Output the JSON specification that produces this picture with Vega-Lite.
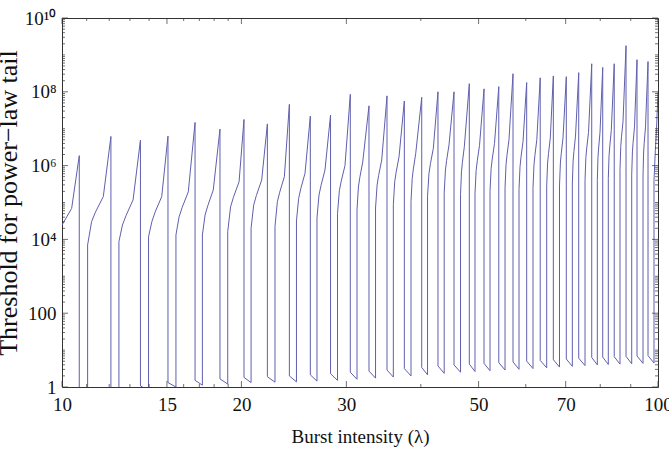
{
  "$schema": "https://vega.github.io/schema/vega-lite/v6.json",
  "width": 596,
  "height": 369,
  "autosize": {"type": "none"},
  "padding": {"left": 62, "top": 18, "right": 11, "bottom": 63},
  "background": "white",
  "config": {"view": {"stroke": "#333333", "strokeWidth": 1}, "font": "Liberation Serif"},
  "datasets": {
    "xmajor": [{"lambda":10},{"lambda":15},{"lambda":20},{"lambda":30},{"lambda":50},{"lambda":70},{"lambda":100}],
    "xminor": [{"lambda":11},{"lambda":12},{"lambda":13},{"lambda":14},{"lambda":16},{"lambda":17},{"lambda":18},{"lambda":19},{"lambda":40},{"lambda":60},{"lambda":80},{"lambda":90}],
    "ymajor": [{"threshold":1},{"threshold":100},{"threshold":1e4},{"threshold":1e6},{"threshold":1e8},{"threshold":1e10}],
    "yminor": [{"threshold":2},{"threshold":3},{"threshold":4},{"threshold":5},{"threshold":6},{"threshold":7},{"threshold":8},{"threshold":9},{"threshold":10},{"threshold":20},{"threshold":30},{"threshold":40},{"threshold":50},{"threshold":60},{"threshold":70},{"threshold":80},{"threshold":90},{"threshold":200},{"threshold":300},{"threshold":400},{"threshold":500},{"threshold":600},{"threshold":700},{"threshold":800},{"threshold":900},{"threshold":1000},{"threshold":2000},{"threshold":3000},{"threshold":4000},{"threshold":5000},{"threshold":6000},{"threshold":7000},{"threshold":8000},{"threshold":9000},{"threshold":2e4},{"threshold":3e4},{"threshold":4e4},{"threshold":5e4},{"threshold":6e4},{"threshold":7e4},{"threshold":8e4},{"threshold":9e4},{"threshold":1e5},{"threshold":2e5},{"threshold":3e5},{"threshold":4e5},{"threshold":5e5},{"threshold":6e5},{"threshold":7e5},{"threshold":8e5},{"threshold":9e5},{"threshold":2e6},{"threshold":3e6},{"threshold":4e6},{"threshold":5e6},{"threshold":6e6},{"threshold":7e6},{"threshold":8e6},{"threshold":9e6},{"threshold":1e7},{"threshold":2e7},{"threshold":3e7},{"threshold":4e7},{"threshold":5e7},{"threshold":6e7},{"threshold":7e7},{"threshold":8e7},{"threshold":9e7},{"threshold":2e8},{"threshold":3e8},{"threshold":4e8},{"threshold":5e8},{"threshold":6e8},{"threshold":7e8},{"threshold":8e8},{"threshold":9e8},{"threshold":1e9},{"threshold":2e9},{"threshold":3e9},{"threshold":4e9},{"threshold":5e9},{"threshold":6e9},{"threshold":7e9},{"threshold":8e9},{"threshold":9e9}],
    "curve": [
    {"i":1,"lambda":10.00,"threshold":24550},
    {"i":2,"lambda":10.38,"threshold":69180},
    {"i":3,"lambda":10.69,"threshold":1.862e6},
    {"i":4,"lambda":10.69,"threshold":0.316},
    {"i":5,"lambda":11.04,"threshold":0.316},
    {"i":6,"lambda":11.04,"threshold":7079},
    {"i":7,"lambda":11.21,"threshold":30200},
    {"i":8,"lambda":11.38,"threshold":54950},
    {"i":9,"lambda":11.73,"threshold":1.445e5},
    {"i":10,"lambda":12.08,"threshold":6.166e6},
    {"i":11,"lambda":12.08,"threshold":0.316},
    {"i":12,"lambda":12.46,"threshold":0.316},
    {"i":13,"lambda":12.46,"threshold":8710},
    {"i":14,"lambda":12.63,"threshold":24550},
    {"i":15,"lambda":12.81,"threshold":44670},
    {"i":16,"lambda":13.16,"threshold":1.175e5},
    {"i":17,"lambda":13.54,"threshold":4.898e6},
    {"i":18,"lambda":13.54,"threshold":1.072},
    {"i":19,"lambda":13.97,"threshold":0.794},
    {"i":20,"lambda":13.97,"threshold":11750},
    {"i":21,"lambda":14.15,"threshold":30200},
    {"i":22,"lambda":14.33,"threshold":54950},
    {"i":23,"lambda":14.70,"threshold":1.445e5},
    {"i":24,"lambda":15.06,"threshold":6.31e6},
    {"i":25,"lambda":15.06,"threshold":1.318},
    {"i":26,"lambda":15.53,"threshold":1.0},
    {"i":27,"lambda":15.53,"threshold":13180},
    {"i":28,"lambda":15.72,"threshold":40740},
    {"i":29,"lambda":15.91,"threshold":74130},
    {"i":30,"lambda":16.29,"threshold":1.95e5},
    {"i":31,"lambda":16.72,"threshold":1.479e7},
    {"i":32,"lambda":16.72,"threshold":1.514},
    {"i":33,"lambda":17.20,"threshold":1.122},
    {"i":34,"lambda":17.20,"threshold":13180},
    {"i":35,"lambda":17.38,"threshold":45710},
    {"i":36,"lambda":17.57,"threshold":83180},
    {"i":37,"lambda":17.94,"threshold":2.188e5},
    {"i":38,"lambda":18.41,"threshold":9.772e6},
    {"i":39,"lambda":18.41,"threshold":1.660},
    {"i":40,"lambda":18.97,"threshold":1.202},
    {"i":41,"lambda":18.97,"threshold":16220},
    {"i":42,"lambda":19.18,"threshold":75860},
    {"i":43,"lambda":19.39,"threshold":1.38e5},
    {"i":44,"lambda":19.82,"threshold":3.631e5},
    {"i":45,"lambda":20.20,"threshold":1.778e7},
    {"i":46,"lambda":20.20,"threshold":1.820},
    {"i":47,"lambda":20.76,"threshold":1.318},
    {"i":48,"lambda":20.76,"threshold":19950},
    {"i":49,"lambda":20.97,"threshold":85110},
    {"i":50,"lambda":21.19,"threshold":1.549e5},
    {"i":51,"lambda":21.63,"threshold":4.074e5},
    {"i":52,"lambda":22.11,"threshold":1.349e7},
    {"i":53,"lambda":22.11,"threshold":1.905},
    {"i":54,"lambda":22.77,"threshold":1.349},
    {"i":55,"lambda":22.77,"threshold":22390},
    {"i":56,"lambda":22.98,"threshold":1.047e5},
    {"i":57,"lambda":23.19,"threshold":1.905e5},
    {"i":58,"lambda":23.61,"threshold":5.012e5},
    {"i":59,"lambda":24.07,"threshold":4.571e7},
    {"i":60,"lambda":24.07,"threshold":1.995},
    {"i":61,"lambda":24.74,"threshold":1.380},
    {"i":62,"lambda":24.74,"threshold":31620},
    {"i":63,"lambda":24.95,"threshold":1.288e5},
    {"i":64,"lambda":25.15,"threshold":2.344e5},
    {"i":65,"lambda":25.57,"threshold":6.166e5},
    {"i":66,"lambda":26.10,"threshold":2.188e7},
    {"i":67,"lambda":26.10,"threshold":2.138},
    {"i":68,"lambda":26.78,"threshold":1.445},
    {"i":69,"lambda":26.78,"threshold":38020},
    {"i":70,"lambda":26.99,"threshold":1.585e5},
    {"i":71,"lambda":27.20,"threshold":2.884e5},
    {"i":72,"lambda":27.62,"threshold":7.586e5},
    {"i":73,"lambda":28.22,"threshold":2.344e7},
    {"i":74,"lambda":28.22,"threshold":2.291},
    {"i":75,"lambda":28.99,"threshold":1.514},
    {"i":76,"lambda":28.99,"threshold":50120},
    {"i":77,"lambda":29.20,"threshold":2.089e5},
    {"i":78,"lambda":29.41,"threshold":3.802e5},
    {"i":79,"lambda":29.84,"threshold":1.0e6},
    {"i":80,"lambda":30.46,"threshold":8.511e7},
    {"i":81,"lambda":30.46,"threshold":2.512},
    {"i":82,"lambda":31.26,"threshold":1.622},
    {"i":83,"lambda":31.26,"threshold":63100},
    {"i":84,"lambda":31.43,"threshold":2.63e5},
    {"i":85,"lambda":31.60,"threshold":4.786e5},
    {"i":86,"lambda":31.96,"threshold":1.259e6},
    {"i":87,"lambda":32.74,"threshold":4.169e7},
    {"i":88,"lambda":32.74,"threshold":2.692},
    {"i":89,"lambda":33.58,"threshold":1.738},
    {"i":90,"lambda":33.58,"threshold":70790},
    {"i":91,"lambda":33.78,"threshold":2.951e5},
    {"i":92,"lambda":33.98,"threshold":5.37e5},
    {"i":93,"lambda":34.39,"threshold":1.413e6},
    {"i":94,"lambda":35.10,"threshold":7.762e7},
    {"i":95,"lambda":35.10,"threshold":2.884},
    {"i":96,"lambda":35.97,"threshold":1.862},
    {"i":97,"lambda":35.97,"threshold":87100},
    {"i":98,"lambda":36.16,"threshold":3.631e5},
    {"i":99,"lambda":36.36,"threshold":6.607e5},
    {"i":100,"lambda":36.77,"threshold":1.738e6},
    {"i":101,"lambda":37.53,"threshold":5.623e7},
    {"i":102,"lambda":37.53,"threshold":3.162},
    {"i":103,"lambda":38.51,"threshold":1.995},
    {"i":104,"lambda":38.51,"threshold":1.072e5},
    {"i":105,"lambda":38.69,"threshold":4.467e5},
    {"i":106,"lambda":38.86,"threshold":8.128e5},
    {"i":107,"lambda":39.22,"threshold":2.138e6},
    {"i":108,"lambda":40.14,"threshold":7.079e7},
    {"i":109,"lambda":40.14,"threshold":3.388},
    {"i":110,"lambda":41.05,"threshold":2.138},
    {"i":111,"lambda":41.05,"threshold":1.479e5},
    {"i":112,"lambda":41.28,"threshold":6.166e5},
    {"i":113,"lambda":41.51,"threshold":1.122e6},
    {"i":114,"lambda":41.98,"threshold":2.951e6},
    {"i":115,"lambda":42.74,"threshold":1.0e8},
    {"i":116,"lambda":42.74,"threshold":3.715},
    {"i":117,"lambda":43.78,"threshold":2.344},
    {"i":118,"lambda":43.78,"threshold":1.82e5},
    {"i":119,"lambda":43.99,"threshold":7.586e5},
    {"i":120,"lambda":44.19,"threshold":1.38e6},
    {"i":121,"lambda":44.60,"threshold":3.631e6},
    {"i":122,"lambda":45.47,"threshold":1.0e8},
    {"i":123,"lambda":45.47,"threshold":3.981},
    {"i":124,"lambda":46.63,"threshold":2.512},
    {"i":125,"lambda":46.63,"threshold":1.622e5},
    {"i":126,"lambda":46.80,"threshold":6.761e5},
    {"i":127,"lambda":46.97,"threshold":1.23e6},
    {"i":128,"lambda":47.32,"threshold":3.236e6},
    {"i":129,"lambda":48.24,"threshold":1.66e8},
    {"i":130,"lambda":48.24,"threshold":4.169},
    {"i":131,"lambda":49.31,"threshold":2.630},
    {"i":132,"lambda":49.31,"threshold":1.778e5},
    {"i":133,"lambda":49.53,"threshold":7.413e5},
    {"i":134,"lambda":49.75,"threshold":1.349e6},
    {"i":135,"lambda":50.18,"threshold":3.548e6},
    {"i":136,"lambda":51.06,"threshold":1.202e8},
    {"i":137,"lambda":51.06,"threshold":4.365},
    {"i":138,"lambda":52.26,"threshold":2.754},
    {"i":139,"lambda":52.26,"threshold":1.995e5},
    {"i":140,"lambda":52.48,"threshold":8.318e5},
    {"i":141,"lambda":52.71,"threshold":1.514e6},
    {"i":142,"lambda":53.17,"threshold":3.981e6},
    {"i":143,"lambda":54.06,"threshold":1.38e8},
    {"i":144,"lambda":54.06,"threshold":4.571},
    {"i":145,"lambda":55.38,"threshold":2.884},
    {"i":146,"lambda":55.38,"threshold":2.512e5},
    {"i":147,"lambda":55.59,"threshold":1.047e6},
    {"i":148,"lambda":55.80,"threshold":1.905e6},
    {"i":149,"lambda":56.23,"threshold":5.012e6},
    {"i":150,"lambda":57.11,"threshold":3.09e8},
    {"i":151,"lambda":57.11,"threshold":4.786},
    {"i":152,"lambda":58.45,"threshold":3.020},
    {"i":153,"lambda":58.45,"threshold":2.239e5},
    {"i":154,"lambda":58.68,"threshold":9.333e5},
    {"i":155,"lambda":58.90,"threshold":1.698e6},
    {"i":156,"lambda":59.36,"threshold":4.467e6},
    {"i":157,"lambda":60.21,"threshold":1.778e8},
    {"i":158,"lambda":60.21,"threshold":5.012},
    {"i":159,"lambda":61.70,"threshold":3.162},
    {"i":160,"lambda":61.70,"threshold":2.512e5},
    {"i":161,"lambda":61.93,"threshold":1.047e6},
    {"i":162,"lambda":62.16,"threshold":1.905e6},
    {"i":163,"lambda":62.61,"threshold":5.012e6},
    {"i":164,"lambda":63.44,"threshold":2.399e8},
    {"i":165,"lambda":63.44,"threshold":5.248},
    {"i":166,"lambda":65.05,"threshold":3.311},
    {"i":167,"lambda":65.05,"threshold":2.818e5},
    {"i":168,"lambda":65.28,"threshold":1.175e6},
    {"i":169,"lambda":65.51,"threshold":2.138e6},
    {"i":170,"lambda":65.96,"threshold":5.623e6},
    {"i":171,"lambda":66.74,"threshold":2.692e8},
    {"i":172,"lambda":66.74,"threshold":5.495},
    {"i":173,"lambda":68.35,"threshold":3.467},
    {"i":174,"lambda":68.35,"threshold":2.818e5},
    {"i":175,"lambda":68.58,"threshold":1.175e6},
    {"i":176,"lambda":68.82,"threshold":2.138e6},
    {"i":177,"lambda":69.28,"threshold":5.623e6},
    {"i":178,"lambda":70.17,"threshold":2.57e8},
    {"i":179,"lambda":70.17,"threshold":5.754},
    {"i":180,"lambda":71.82,"threshold":3.631},
    {"i":181,"lambda":71.82,"threshold":3.162e5},
    {"i":182,"lambda":72.04,"threshold":1.318e6},
    {"i":183,"lambda":72.26,"threshold":2.399e6},
    {"i":184,"lambda":72.71,"threshold":6.31e6},
    {"i":185,"lambda":73.62,"threshold":3.311e8},
    {"i":186,"lambda":73.62,"threshold":6.026},
    {"i":187,"lambda":75.43,"threshold":3.802},
    {"i":188,"lambda":75.43,"threshold":3.981e5},
    {"i":189,"lambda":75.68,"threshold":1.66e6},
    {"i":190,"lambda":75.94,"threshold":3.02e6},
    {"i":191,"lambda":76.46,"threshold":7.943e6},
    {"i":192,"lambda":77.41,"threshold":5.754e8},
    {"i":193,"lambda":77.41,"threshold":6.310},
    {"i":194,"lambda":79.10,"threshold":3.981},
    {"i":195,"lambda":79.10,"threshold":3.981e5},
    {"i":196,"lambda":79.30,"threshold":1.66e6},
    {"i":197,"lambda":79.51,"threshold":3.02e6},
    {"i":198,"lambda":79.93,"threshold":7.943e6},
    {"i":199,"lambda":80.77,"threshold":4.571e8},
    {"i":200,"lambda":80.77,"threshold":6.457},
    {"i":201,"lambda":82.53,"threshold":4.074},
    {"i":202,"lambda":82.53,"threshold":4.467e5},
    {"i":203,"lambda":82.77,"threshold":1.862e6},
    {"i":204,"lambda":83.01,"threshold":3.388e6},
    {"i":205,"lambda":83.49,"threshold":8.913e6},
    {"i":206,"lambda":84.44,"threshold":5.754e8},
    {"i":207,"lambda":84.44,"threshold":6.607},
    {"i":208,"lambda":86.35,"threshold":4.169},
    {"i":209,"lambda":86.35,"threshold":7.943e5},
    {"i":210,"lambda":86.60,"threshold":3.311e6},
    {"i":211,"lambda":86.85,"threshold":6.026e6},
    {"i":212,"lambda":87.36,"threshold":1.585e7},
    {"i":213,"lambda":88.38,"threshold":1.778e9},
    {"i":214,"lambda":88.38,"threshold":6.761},
    {"i":215,"lambda":90.34,"threshold":4.266},
    {"i":216,"lambda":90.34,"threshold":5.623e5},
    {"i":217,"lambda":90.59,"threshold":2.344e6},
    {"i":218,"lambda":90.83,"threshold":4.266e6},
    {"i":219,"lambda":91.32,"threshold":1.122e7},
    {"i":220,"lambda":92.21,"threshold":7.413e8},
    {"i":221,"lambda":92.21,"threshold":6.918},
    {"i":222,"lambda":94.38,"threshold":4.365},
    {"i":223,"lambda":94.38,"threshold":5.623e5},
    {"i":224,"lambda":94.60,"threshold":2.344e6},
    {"i":225,"lambda":94.83,"threshold":4.266e6},
    {"i":226,"lambda":95.29,"threshold":1.122e7},
    {"i":227,"lambda":96.22,"threshold":6.607e8},
    {"i":228,"lambda":96.22,"threshold":7.079},
    {"i":229,"lambda":98.47,"threshold":4.467},
    {"i":230,"lambda":98.47,"threshold":3.981e5},
    {"i":231,"lambda":98.97,"threshold":2.512e6},
    {"i":232,"lambda":99.43,"threshold":1.0e7},
    {"i":233,"lambda":100.0,"threshold":1.0e8}
    ]
  },
  "layer": [
    {
      "data": {"name": "curve"},
      "mark": {"type": "line", "color": "#5f5fae", "strokeWidth": 1, "clip": true, "interpolate": "linear"},
      "encoding": {
        "x": {
          "field": "lambda", "type": "quantitative",
          "scale": {"type": "log", "domain": [10, 100], "nice": false},
          "axis": {
            "orient": "bottom",
            "values": [10,15,20,30,50,70,100],
            "format": "d",
            "ticks": false,
            "domain": false,
            "grid": false,
            "labelFont": "Liberation Serif",
            "labelFontSize": 19,
            "labelColor": "#111111",
            "labelBaseline": "alphabetic",
            "labelPadding": 23,
            "labelFlush": false,
            "labelOverlap": false,
            "labelBound": false,
            "title": "Burst intensity (λ)",
            "titleFont": "Liberation Serif",
            "titleFontSize": 19,
            "titleFontWeight": "normal",
            "titleColor": "#111111",
            "titleY": 55,
            "titleBaseline": "alphabetic"
          }
        },
        "y": {
          "field": "threshold", "type": "quantitative",
          "scale": {"type": "log", "domain": [1, 1e10], "nice": false},
          "axis": {
            "orient": "left",
            "values": [1,100,10000,1000000,100000000,10000000000],
            "labelExpr": "datum.value == 1 ? '1' : datum.value == 100 ? '100' : datum.value == 10000 ? '10⁴' : datum.value == 1000000 ? '10⁶' : datum.value == 100000000 ? '10⁸' : '10¹⁰'",
            "ticks": false,
            "domain": false,
            "grid": false,
            "labelFont": "Liberation Serif",
            "labelFontSize": 19,
            "labelColor": "#111111",
            "labelBaseline": "middle",
            "labelPadding": 6,
            "labelFlush": false,
            "labelOverlap": false,
            "labelBound": false,
            "title": "Threshold for power−law tail",
            "titleFont": "Liberation Serif",
            "titleFontSize": 26,
            "titleFontWeight": "normal",
            "titleColor": "#111111",
            "titleX": -46,
            "titleY": 184.5,
            "titleAngle": -90,
            "titleAlign": "center",
            "titleBaseline": "alphabetic"
          }
        },
        "order": {"field": "i", "type": "quantitative"}
      }
    },
    {
      "data": {"name": "xmajor"},
      "mark": {"type": "tick", "orient": "vertical", "size": 6, "thickness": 1, "color": "#333333", "yOffset": -3},
      "encoding": {
        "x": {"field": "lambda", "type": "quantitative"},
        "y": {"datum": 1, "type": "quantitative"}
      }
    },
    {
      "data": {"name": "xmajor"},
      "mark": {"type": "tick", "orient": "vertical", "size": 6, "thickness": 1, "color": "#333333", "yOffset": 3},
      "encoding": {
        "x": {"field": "lambda", "type": "quantitative"},
        "y": {"datum": 1e10, "type": "quantitative"}
      }
    },
    {
      "data": {"name": "xminor"},
      "mark": {"type": "tick", "orient": "vertical", "size": 3, "thickness": 1, "color": "#333333", "yOffset": -1.5},
      "encoding": {
        "x": {"field": "lambda", "type": "quantitative"},
        "y": {"datum": 1, "type": "quantitative"}
      }
    },
    {
      "data": {"name": "xminor"},
      "mark": {"type": "tick", "orient": "vertical", "size": 3, "thickness": 1, "color": "#333333", "yOffset": 1.5},
      "encoding": {
        "x": {"field": "lambda", "type": "quantitative"},
        "y": {"datum": 1e10, "type": "quantitative"}
      }
    },
    {
      "data": {"name": "ymajor"},
      "mark": {"type": "tick", "orient": "horizontal", "size": 6, "thickness": 1, "color": "#333333", "xOffset": 3},
      "encoding": {
        "x": {"datum": 10, "type": "quantitative"},
        "y": {"field": "threshold", "type": "quantitative"}
      }
    },
    {
      "data": {"name": "ymajor"},
      "mark": {"type": "tick", "orient": "horizontal", "size": 6, "thickness": 1, "color": "#333333", "xOffset": -3},
      "encoding": {
        "x": {"datum": 100, "type": "quantitative"},
        "y": {"field": "threshold", "type": "quantitative"}
      }
    },
    {
      "data": {"name": "yminor"},
      "mark": {"type": "tick", "orient": "horizontal", "size": 3, "thickness": 1, "color": "#333333", "xOffset": 1.5},
      "encoding": {
        "x": {"datum": 10, "type": "quantitative"},
        "y": {"field": "threshold", "type": "quantitative"}
      }
    },
    {
      "data": {"name": "yminor"},
      "mark": {"type": "tick", "orient": "horizontal", "size": 3, "thickness": 1, "color": "#333333", "xOffset": -1.5},
      "encoding": {
        "x": {"datum": 100, "type": "quantitative"},
        "y": {"field": "threshold", "type": "quantitative"}
      }
    }
  ]
}
